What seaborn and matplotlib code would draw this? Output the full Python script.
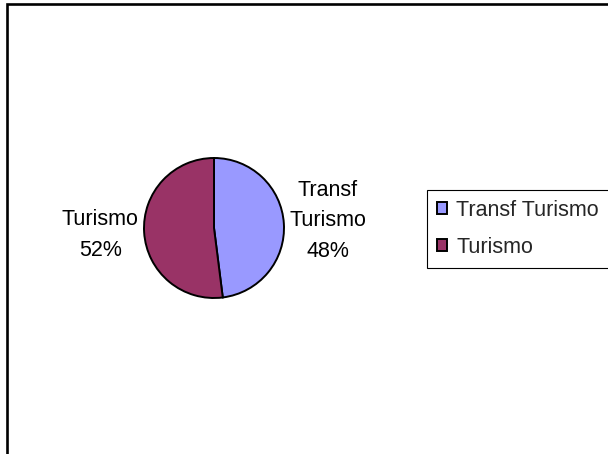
"""
Gráfico de pastel: Transf Turismo vs Turismo
"""

import matplotlib
matplotlib.use('Agg')
import matplotlib.pyplot as plt
from matplotlib.patches import Rectangle
import seaborn as sns

# Datos
categorias = ['Transf Turismo', 'Turismo']
etiquetas = ['Transf\nTurismo', 'Turismo']
valores = [48, 52]
colores = ['#9999FF', '#993366']


def grafico_pastel():
    sns.set_theme(style='white')
    plt.rcParams['font.family'] = ['Liberation Sans', 'DejaVu Sans']

    W, H = 608, 454
    fig = plt.figure(figsize=(W / 100, H / 100), dpi=100)
    ax = fig.add_axes([0, 0, 1, 1])

    total = sum(valores)
    textos = [f"{e}\n{round(v * 100 / total)}%" for e, v in zip(etiquetas, valores)]

    wedges, labels = ax.pie(valores, labels=textos, colors=colores, startangle=90,
                            counterclock=False, center=(214, H - 228), radius=70,
                            labeldistance=1.63,
                            wedgeprops=dict(edgecolor='black', linewidth=1.4),
                            textprops=dict(fontsize=15.5, color='black', linespacing=1.6))
    for t in labels:
        t.set_ha('center')
        t.set_va('center')

    ax.set_xlim(0, W)
    ax.set_ylim(0, H)
    ax.set_aspect('equal')
    ax.axis('off')

    # Borde del área del gráfico (solo se ven arriba e izquierda)
    fig.add_artist(Rectangle((7, -20), W + 40, H - 4 + 20, transform=None,
                             fill=False, edgecolor='black', linewidth=1.9))

    leg = ax.legend(wedges, categorias, loc='upper left',
                    bbox_to_anchor=(427 / W, 1 - 190 / H), bbox_transform=fig.transFigure,
                    fontsize=15.5, frameon=True, fancybox=False, shadow=False,
                    handlelength=0.47, handleheight=0.47, handletextpad=0.45,
                    labelspacing=0.75, borderpad=0.45, borderaxespad=0)
    leg.get_frame().set_edgecolor('black')
    leg.get_frame().set_linewidth(0.8)
    leg.get_frame().set_alpha(1)

    fig.savefig('out.png', dpi=100)
    plt.close()


grafico_pastel()
